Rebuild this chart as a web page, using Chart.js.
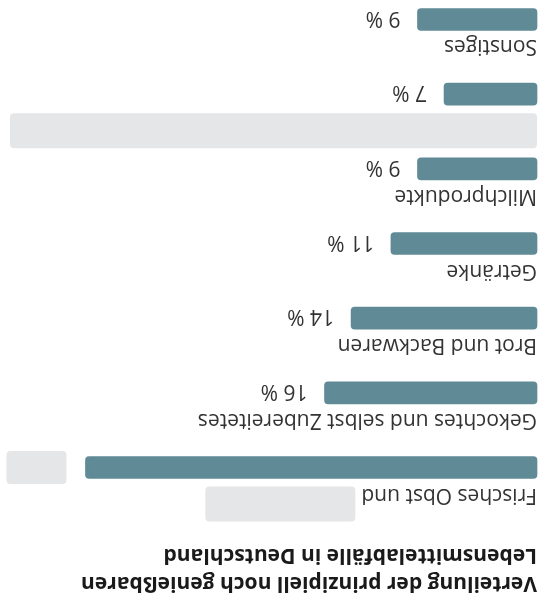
<!DOCTYPE html>
<html>
<head>
<meta charset="utf-8">
<script src="https://cdn.jsdelivr.net/npm/chart.js@4.4.1/dist/chart.umd.min.js"></script>
<style>
  html, body { margin: 0; padding: 0; background: #fff; }
  #wrap { width: 549px; height: 599px; transform: rotate(180deg); }
</style>
</head>
<body>
<div id="wrap"><canvas id="wasteChart" width="549" height="599"></canvas></div>
<script>
// Verteilung der Lebensmittelabfälle (Anteile in %)
const categories = ['Frisches Obst und', 'Gekochtes und selbst Zubereitetes', 'Brot und Backwaren', 'Getränke', 'Milchprodukte', '', 'Sonstiges'];
const shares = [34, 16, 14, 11, 9, 7, 9];
const titleLines = ['Verteilung der prinzipiell noch genießbaren', 'Lebensmittelabfälle in Deutschland'];
// abgedeckte Stellen im Bild
const maskValue = [true, false, false, false, false, false, false];
const maskLabel = ['after', '', '', '', '', 'full', ''];

const barColor = '#5f8a96';
const maskColor = '#e5e6e8';
const textColor = '#333';
const fontFamily = '"Open Sans", "Noto Sans", sans-serif';

function roundRect(ctx, x, y, w, h, r) {
    ctx.beginPath();
    ctx.roundRect(x, y, w, h, r);
    ctx.fill();
}

const labelPlugin = {
    id: 'labels',
    afterDatasetsDraw(chart) {
        const ctx = chart.ctx;
        const area = chart.chartArea;
        const meta = chart.getDatasetMeta(0);
        ctx.save();
        ctx.font = '21px ' + fontFamily;
        meta.data.forEach((bar, i) => {
            const top = bar.y - bar.height / 2;
            // Kategorie über dem Balken
            ctx.fillStyle = textColor;
            ctx.textAlign = 'left';
            ctx.textBaseline = 'alphabetic';
            ctx.fillText(categories[i], area.left, top - 10);
            if (maskLabel[i] === 'after') {
                const w = ctx.measureText(categories[i]).width;
                ctx.fillStyle = maskColor;
                roundRect(ctx, area.left + w + 6, top - 43, 150, 35, 4);
            } else if (maskLabel[i] === 'full') {
                ctx.fillStyle = maskColor;
                roundRect(ctx, area.left, top - 43, 527, 35, 4);
            }
            // Wert rechts vom Balken
            if (maskValue[i]) {
                ctx.fillStyle = maskColor;
                roundRect(ctx, bar.x + 19, bar.y - 16.5, 60, 33, 4);
            } else {
                ctx.fillStyle = textColor;
                ctx.textBaseline = 'middle';
                ctx.fillText(shares[i] + ' %', bar.x + 17, bar.y + 2);
            }
        });
        ctx.restore();
    }
};

const chartCtx = document.getElementById('wasteChart').getContext('2d');
const wasteChart = new Chart(chartCtx, {
    type: 'bar',
    data: {
        labels: categories,
        datasets: [{
            data: shares,
            backgroundColor: barColor,
            borderRadius: 4,
            borderSkipped: false,
            barThickness: 22,
            clip: false
        }]
    },
    options: {
        indexAxis: 'y',
        responsive: false,
        animation: false,
        layout: { padding: { left: 12, right: 5.8, top: 0, bottom: 19.5 } },
        scales: {
            x: { display: false, min: 0, max: 40 },
            y: { display: false, offset: false }
        },
        plugins: {
            legend: { display: false },
            tooltip: { enabled: false },
            title: {
                display: true,
                align: 'start',
                text: titleLines,
                color: '#1a1a1a',
                font: { family: fontFamily, size: 21, weight: 'bold', lineHeight: 1.333 },
                padding: { top: 2, bottom: 73.5 }
            }
        }
    },
    plugins: [labelPlugin]
});
</script>
</body>
</html>
